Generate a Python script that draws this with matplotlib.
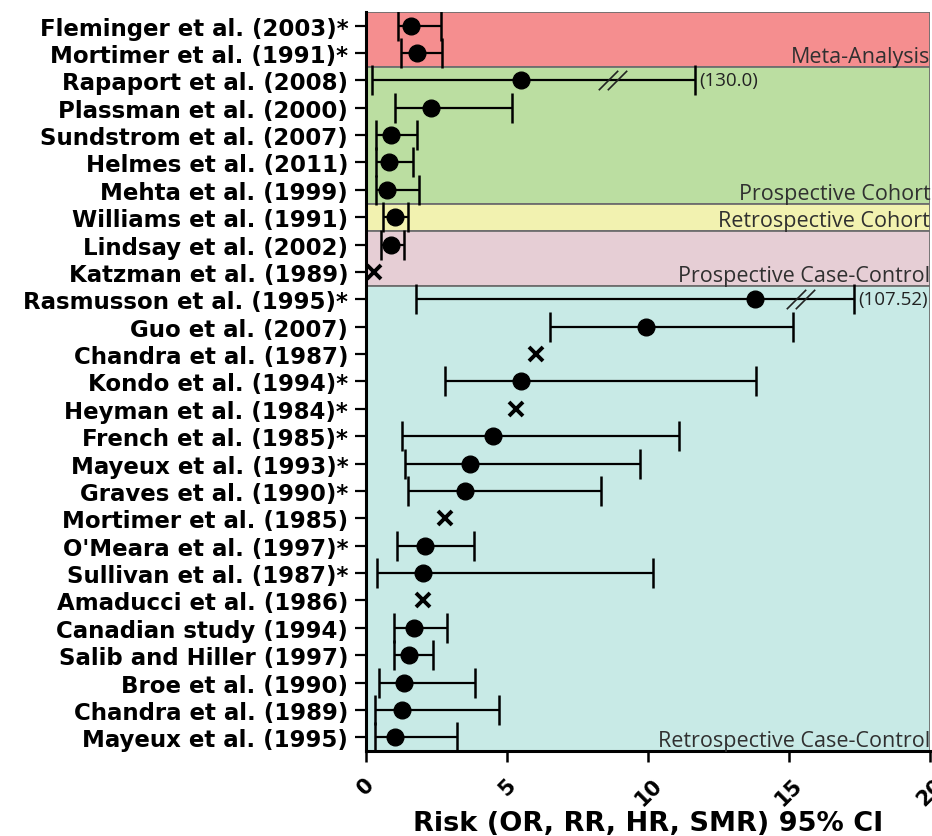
import numpy as np
import matplotlib.pyplot as plt
from matplotlib.transforms import blended_transform_factory, offset_copy, ScaledTranslation

# studies from top to bottom
studies = [
    "Fleminger et al. (2003)*", "Mortimer et al. (1991)*", "Rapaport et al. (2008)",
    "Plassman et al. (2000)", "Sundstrom et al. (2007)", "Helmes et al. (2011)",
    "Mehta et al. (1999)", "Williams et al. (1991)", "Lindsay et al. (2002)",
    "Katzman et al. (1989)", "Rasmusson et al. (1995)*", "Guo et al. (2007)",
    "Chandra et al. (1987)", "Kondo et al. (1994)*", "Heyman et al. (1984)*",
    "French et al. (1985)*", "Mayeux et al. (1993)*", "Graves et al. (1990)*",
    "Mortimer et al. (1985)", "O'Meara et al. (1997)*", "Sullivan et al. (1987)*",
    "Amaducci et al. (1986)", "Canadian study (1994)", "Salib and Hiller (1997)",
    "Broe et al. (1990)", "Chandra et al. (1989)", "Mayeux et al. (1995)",
]
est = [1.57, 1.79, 5.49, 2.31, 0.88, 0.82, 0.75, 1.01, 0.88, 0.27, 13.78, 9.91,
       6.01, 5.49, 5.30, 4.49, 3.68, 3.49, 2.78, 2.09, 2.01, 2.01, 1.69, 1.53,
       1.34, 1.26, 1.01]
nan = np.nan
lo = [1.14, 1.23, 0.21, 1.01, 0.36, 0.36, 0.36, 0.58, 0.52, nan, 1.75, 6.51,
      nan, 2.79, nan, 1.25, 1.38, 1.49, nan, 1.10, 0.39, nan, 0.97, 0.97,
      0.45, 0.32, 0.30]
# upper limits as drawn (broken bars are cut short)
hi = [2.66, 2.69, 11.66, 5.17, 1.79, 1.66, 1.88, 1.49, 1.34, nan, 17.31, 15.14,
      nan, 13.83, nan, 11.08, 9.71, 8.31, nan, 3.83, 10.16, nan, 2.86, 2.36,
      3.86, 4.70, 3.22]
broken_rows = [2, 10]
broken_at = [8.74, 15.4]
broken_hi = ["(130.0)", "(107.52)"]

groups = ["Meta-Analysis", "Prospective Cohort", "Retrospective Cohort",
          "Prospective Case-Control", "Retrospective Case-Control"]
group_first = [0, 2, 7, 8, 10]
group_last = [1, 6, 7, 9, 26]
group_colors = ["#f58e8f", "#bbdea1", "#f2f2b0", "#e6ced5", "#c8eae6"]

fig = plt.figure(figsize=(9.32, 8.37), dpi=100)
ax = fig.add_axes([0.393, 0.1016, 0.605, 0.883])

y = np.arange(len(studies))
est = np.array(est)
lo = np.array(lo)
hi = np.array(hi)

lab_tr = offset_copy(blended_transform_factory(ax.transAxes, ax.transData),
                     fig=fig, x=0, y=4.5, units="dots")
for name, a, b, c in zip(groups, group_first, group_last, group_colors):
    ax.axhspan(a - 0.5, b + 0.5, facecolor=c, edgecolor="#6e6e6e", lw=1.3, zorder=0)
    ax.text(1.0, b + 0.5, name, transform=lab_tr, ha="right", va="baseline",
            fontsize=15.5, family="Open Sans", color="#303030")

has_ci = ~np.isnan(lo)
ax.errorbar(est[has_ci], y[has_ci], xerr=[est[has_ci] - lo[has_ci], hi[has_ci] - est[has_ci]],
            fmt="o", color="black", ms=12, elinewidth=1.6, capsize=10.5, capthick=1.8, zorder=3)
ax.plot(est[~has_ci], y[~has_ci], "x", color="black", ms=9.5, mew=2.8, zorder=3)

# axis break marks and real upper limits
slash = [(-1, -1), (1, 1)]
for r, bx, txt in zip(broken_rows, broken_at, broken_hi):
    for dx in (-0.17, 0.17):
        ax.plot(bx + dx, r, marker=slash, ms=14, mew=1.2, color="#222222", zorder=4)
    ax.annotate(txt, (hi[r], r), xytext=(3, 0), textcoords="offset points",
                ha="left", va="center", fontsize=13.5, family="Open Sans", color="#222222")

ax.set_xlim(0, 20)
ax.set_ylim(26.5, -0.5)
ax.set_yticks(y)
ax.set_yticklabels(studies, fontsize=16.5, fontweight="bold", family="DejaVu Sans")
ax.set_xticks([0, 5, 10, 15, 20])
ax.set_xticklabels(["0", "5", "10", "15", "20"], fontsize=15, fontweight="bold",
                   family="DejaVu Sans", rotation=45, ha="center")
for lab in ax.get_xticklabels():
    lab.set_transform(lab.get_transform() + ScaledTranslation(-0.07, 0, fig.dpi_scale_trans))
ax.tick_params(axis="y", length=8, width=1.6, pad=5)
ax.tick_params(axis="x", length=8, width=1.8, pad=8.5)
ax.set_xlabel("Risk (OR, RR, HR, SMR) 95% CI", fontsize=19.5, fontweight="bold",
              family="DejaVu Sans", labelpad=1)

for s in ["top", "right"]:
    ax.spines[s].set_visible(False)
ax.spines["left"].set_linewidth(2.2)
ax.spines["bottom"].set_linewidth(2.2)

fig.savefig("out.png", dpi=100)
